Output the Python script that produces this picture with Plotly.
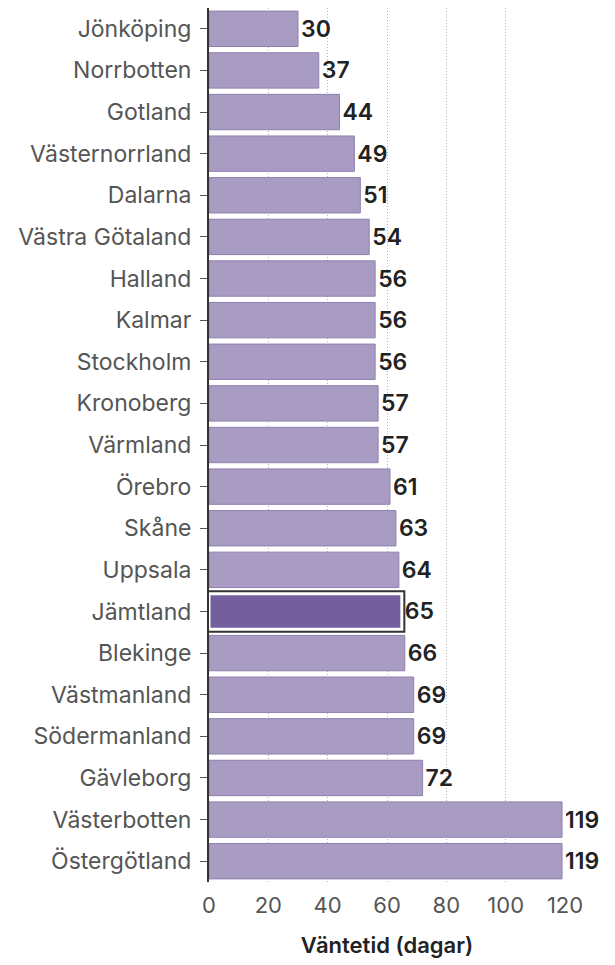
import plotly.graph_objects as go

# Väntetid per region (dagar)
regions = ["Jönköping", "Norrbotten", "Gotland", "Västernorrland", "Dalarna",
           "Västra Götaland", "Halland", "Kalmar", "Stockholm", "Kronoberg",
           "Värmland", "Örebro", "Skåne", "Uppsala", "Jämtland", "Blekinge",
           "Västmanland", "Södermanland", "Gävleborg", "Västerbotten", "Östergötland"]
days = [30, 37, 44, 49, 51, 54, 56, 56, 56, 57, 57, 61, 63, 64, 65, 66, 69, 69, 72, 119, 119]
highlight = "Jämtland"
x_ticks = [0, 20, 40, 60, 80, 100, 120]

base_fill = "#a99cc2"
base_line = "#8d7fb0"
hl_fill = "#745e9e"

hl_idx = regions.index(highlight)
fills = [hl_fill if r == highlight else base_fill for r in regions]
line_cols = ["#333333" if r == highlight else base_line for r in regions]
line_w = [7 if r == highlight else 1 for r in regions]

fig = go.Figure()
fig.add_trace(go.Bar(
    y=regions, x=days, orientation="h",
    marker=dict(color=fills, line=dict(color=line_cols, width=line_w)),
    text=days, textposition="outside", cliponaxis=False,
    textfont=dict(family="Inter", size=23, color="#222222", weight=600),
    hoverinfo="skip", showlegend=False,
))
# inner white frame on the highlighted bar
fig.add_trace(go.Bar(
    y=[regions[hl_idx]], x=[days[hl_idx]], orientation="h",
    marker=dict(color=hl_fill, line=dict(color="white", width=3)),
    hoverinfo="skip", showlegend=False,
))

# the page body has an 8px margin, so the figure is sized to fit inside the window
fig.update_layout(
    width=607, height=957,
    margin=dict(l=201, r=50, t=0, b=83),
    paper_bgcolor="white", plot_bgcolor="white",
    barmode="overlay", bargap=0.15,
    font=dict(family="Inter", size=23, color="#555555"),
    xaxis=dict(
        range=[0, 120], tickvals=x_ticks, showline=False, zeroline=False,
        showgrid=True, gridcolor="#b4b4b4", griddash="1px,2px", gridwidth=1,
        ticks="", ticklabelstandoff=8, tickfont=dict(size=22, color="#555555"),
        title=dict(text="Väntetid (dagar)", font=dict(size=22, color="#222222", weight=600), standoff=20),
    ),
    yaxis=dict(
        autorange="reversed", showline=True, linecolor="#333333", linewidth=2,
        ticks="outside", ticklen=7, tickcolor="#555555", showgrid=False,
        ticklabelstandoff=4, tickfont=dict(size=23, color="#555555"),
    ),
)

fig.write_html("out.html")
